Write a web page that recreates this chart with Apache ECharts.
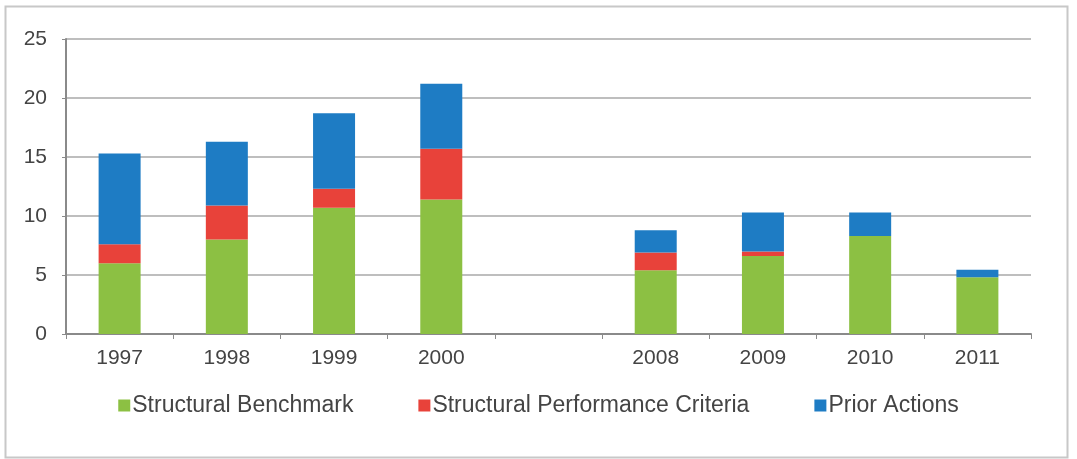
<!DOCTYPE html>
<html>
<head>
<meta charset="utf-8">
<script src="https://cdn.jsdelivr.net/npm/echarts@6/dist/echarts.min.js"></script>
<style>
html,body{margin:0;padding:0;background:#fff;}
#c{width:1077px;height:459px;}
</style>
</head>
<body>
<div id="c"></div>
<script>
var years = ['1997', '1998', '1999', '2000', '', '2008', '2009', '2010', '2011'];
var benchmark = [6.0, 8.0, 10.7, 11.4, null, 5.4, 6.6, 8.3, 4.8];
var criteria = [1.6, 2.9, 1.6, 4.3, null, 1.5, 0.4, 0, 0];
var prior = [7.7, 5.4, 6.4, 5.5, null, 1.9, 3.3, 2.0, 0.65];
var yTicks = [0, 5, 10, 15, 20, 25];
var seriesNames = ['Structural Benchmark', 'Structural Performance Criteria', 'Prior Actions'];

var chart = echarts.init(document.getElementById('c'), null, {renderer: 'canvas'});
var font = '"Liberation Sans", Arial, sans-serif';
function bar(name, data, color) {
  return {
    name: name, type: 'bar', stack: 'total', data: data,
    barWidth: 42, itemStyle: {color: color}
  };
}
chart.setOption({
  animation: false,
  backgroundColor: '#fff',
  graphic: [{
    type: 'rect', left: 3, top: 4, silent: true,
    shape: {width: 1062, height: 451},
    style: {fill: 'none', stroke: '#c8c8c8', lineWidth: 2}
  }],
  grid: {left: 66, right: 46, top: 39, bottom: 125},
  legend: {
    data: seriesNames,
    top: 389, left: 'center',
    itemWidth: 12, itemHeight: 12, itemGap: 65,
    icon: 'rect',
    textStyle: {fontFamily: font, fontSize: 23, color: '#444', padding: [0, 0, 0, -3]}
  },
  xAxis: {
    type: 'category', data: years,
    axisLine: {lineStyle: {color: '#8a8a8a', width: 2}},
    axisTick: {show: true, length: 5, lineStyle: {color: '#8a8a8a'}},
    axisLabel: {fontFamily: font, fontSize: 21, color: '#444', margin: 14}
  },
  yAxis: {
    type: 'value', min: yTicks[0], max: yTicks[yTicks.length - 1], interval: 5,
    axisLine: {show: true, lineStyle: {color: '#8a8a8a', width: 2}},
    axisTick: {show: true, length: 4, lineStyle: {color: '#8a8a8a'}},
    splitLine: {lineStyle: {color: '#a8a8a8', width: 1.5}},
    axisLabel: {fontFamily: font, fontSize: 21, color: '#444', margin: 19}
  },
  series: [
    bar(seriesNames[0], benchmark, '#8cc043'),
    bar(seriesNames[1], criteria, '#e8423a'),
    bar(seriesNames[2], prior, '#1e7cc4')
  ]
});
</script>
</body>
</html>
